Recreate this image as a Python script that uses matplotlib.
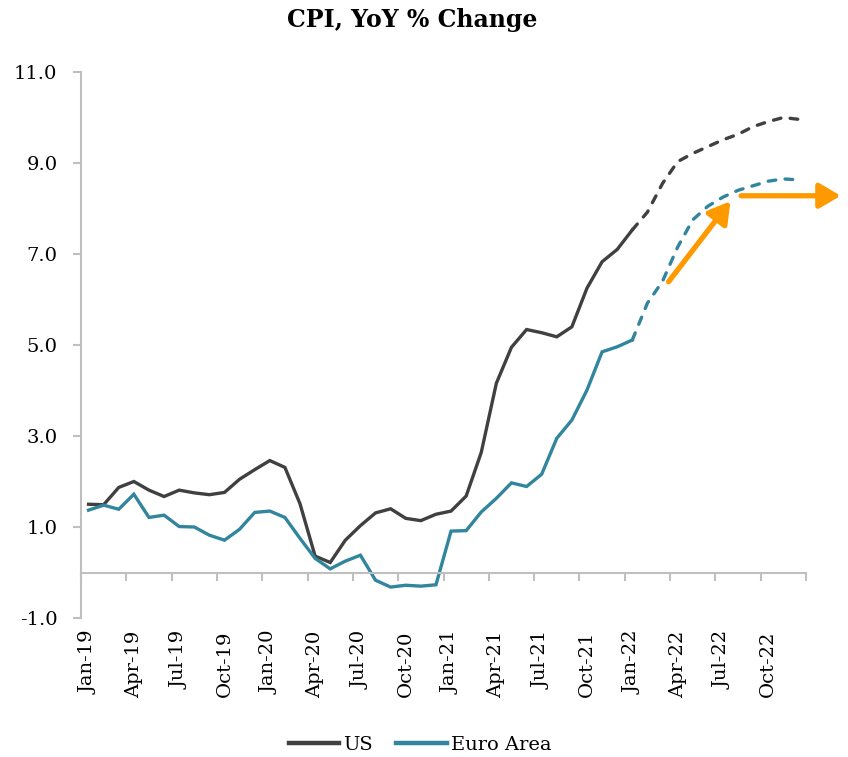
import matplotlib
matplotlib.use("Agg")
import matplotlib.pyplot as plt
from matplotlib.ticker import FixedLocator, FormatStrFormatter

# Monthly CPI, year on year % change, Jan-19 .. Dec-22
months = ["Jan-19", "Feb-19", "Mar-19", "Apr-19", "May-19", "Jun-19", "Jul-19", "Aug-19", "Sep-19", "Oct-19", "Nov-19", "Dec-19",
          "Jan-20", "Feb-20", "Mar-20", "Apr-20", "May-20", "Jun-20", "Jul-20", "Aug-20", "Sep-20", "Oct-20", "Nov-20", "Dec-20",
          "Jan-21", "Feb-21", "Mar-21", "Apr-21", "May-21", "Jun-21", "Jul-21", "Aug-21", "Sep-21", "Oct-21", "Nov-21", "Dec-21",
          "Jan-22", "Feb-22", "Mar-22", "Apr-22", "May-22", "Jun-22", "Jul-22", "Aug-22", "Sep-22", "Oct-22", "Nov-22", "Dec-22"]

us_actual = [1.50, 1.49, 1.87, 2.00, 1.81, 1.67, 1.81, 1.75, 1.71, 1.76, 2.05, 2.26,
             2.46, 2.31, 1.51, 0.36, 0.22, 0.71, 1.03, 1.31, 1.40, 1.19, 1.14, 1.28,
             1.35, 1.68, 2.64, 4.16, 4.95, 5.34, 5.27, 5.18, 5.40, 6.25, 6.83, 7.10,
             7.53]
us_forecast = [7.53, 7.92, 8.55, 9.03, 9.21, 9.36, 9.51, 9.63, 9.80, 9.91, 10.00, 9.96]

ea_actual = [1.37, 1.48, 1.39, 1.72, 1.21, 1.26, 1.01, 1.00, 0.82, 0.71, 0.95, 1.32,
             1.35, 1.21, 0.75, 0.31, 0.08, 0.25, 0.38, -0.17, -0.32, -0.28, -0.30, -0.27,
             0.91, 0.92, 1.33, 1.63, 1.97, 1.89, 2.16, 2.95, 3.35, 4.01, 4.85, 4.96,
             5.11]
ea_forecast = [5.11, 5.92, 6.40, 7.15, 7.75, 8.05, 8.25, 8.40, 8.50, 8.60, 8.65, 8.63]

# orange arrows: (x0, y0, x1, y1) in month index / percent
arrow_up = (38.4, 6.39, 42.5, 8.16)
arrow_flat = (43.2, 8.28, 49.8, 8.28)

us_color = "#404040"
ea_color = "#31859C"
grid_grey = "#BFBFBF"
orange = "#FF9900"

plt.rcParams["font.family"] = ["DejaVu Serif"]

fig = plt.figure(figsize=(8.48, 7.57), dpi=100)
ax = fig.add_axes([81 / 848, 1 - 618 / 757, (806 - 81) / 848, (618 - 72) / 757])

n_act = len(us_actual)
x_act = list(range(n_act))
x_fc = list(range(n_act - 1, n_act - 1 + len(us_forecast)))

dashes = (0, (2.3, 2.8))
ax.plot(x_act, us_actual, color=us_color, lw=2.4, solid_joinstyle="miter", label="US")
ax.plot(x_fc, us_forecast, color=us_color, lw=2.4, linestyle=dashes, dash_capstyle="round")
ax.plot(x_act, ea_actual, color=ea_color, lw=2.4, solid_joinstyle="miter", label="Euro Area")
ax.plot(x_fc, ea_forecast, color=ea_color, lw=2.4, linestyle=dashes, dash_capstyle="round")

for x0, y0, x1, y1 in [arrow_up, arrow_flat]:
    ax.annotate("", xy=(x1, y1), xytext=(x0, y0), annotation_clip=False,
                arrowprops=dict(arrowstyle="-|>,head_length=0.85,head_width=0.5", color=orange,
                                lw=3.8, mutation_scale=15, shrinkA=0, shrinkB=0))

ax.set_xlim(-0.5, len(months) - 0.5)
ax.set_ylim(-1, 11)
ax.set_yticks([-1, 1, 3, 5, 7, 9, 11])
ax.yaxis.set_major_formatter(FormatStrFormatter("%.1f"))

# category labels every 3 months, tick marks on the group boundaries
ax.set_xticks(range(0, len(months), 3))
ax.set_xticklabels(months[::3])
ax.xaxis.set_minor_locator(FixedLocator([i - 0.5 for i in range(0, len(months) + 1, 3)]))

for s in ["top", "right"]:
    ax.spines[s].set_visible(False)
ax.spines["bottom"].set_position(("data", 0))
ax.spines["bottom"].set_color(grid_grey)
ax.spines["left"].set_color(grid_grey)
ax.spines["bottom"].set_linewidth(1.5)
ax.spines["left"].set_linewidth(1.5)

ax.tick_params(axis="y", colors=grid_grey, labelcolor="black", length=6, width=1.5, pad=11, labelsize=14)
ax.tick_params(axis="x", which="major", length=0, pad=42, labelsize=14, labelcolor="black",
               labelrotation=90)
ax.tick_params(axis="x", which="minor", length=6, width=1.5, colors=grid_grey)

fig.text(412 / 848, 1 - 20 / 757, "CPI, YoY % Change", ha="center", va="center",
         fontsize=17, fontweight="bold")

leg = fig.legend(loc="center", bbox_to_anchor=(420 / 848, 1 - 745 / 757), ncol=2, frameon=False,
                 fontsize=14, handlelength=2.6, handletextpad=0.2, columnspacing=1.2)
for h in leg.get_lines():
    h.set_linewidth(3.2)

fig.savefig("out.png", dpi=100)
